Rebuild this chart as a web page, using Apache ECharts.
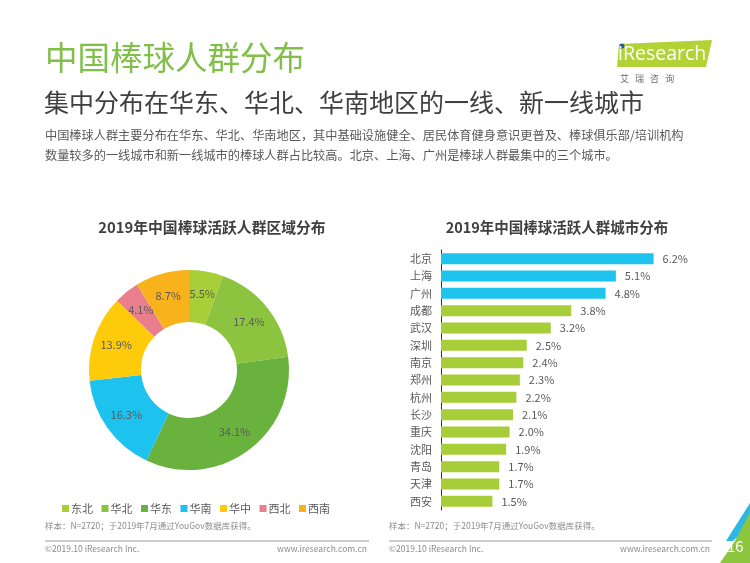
<!DOCTYPE html>
<html><head><meta charset="utf-8">
<script src="https://cdn.jsdelivr.net/npm/echarts@6/dist/echarts.min.js"></script>
<style>html,body{margin:0;padding:0;background:#fff}#c{width:750px;height:563px}</style>
</head><body><div id="c"></div>
<script>
const regions = ['东北','华北','华东','华南','华中','西北','西南'];
const regionValues = [5.5, 17.4, 34.1, 16.3, 13.9, 4.1, 8.7];
const regionColors = ['#a9cf38','#8cc43f','#6ab23e','#1ec2ee','#fecb0a','#e97f8c','#f8b21c'];
const cities = ['北京','上海','广州','成都','武汉','深圳','南京','郑州','杭州','长沙','重庆','沈阳','青岛','天津','西安'];
const cityValues = [6.2, 5.1, 4.8, 3.8, 3.2, 2.5, 2.4, 2.3, 2.2, 2.1, 2.0, 1.9, 1.7, 1.7, 1.5];
const highlightCount = 3;

const FONT = '"Noto Sans CJK SC","Noto Sans",sans-serif';
const chart = echarts.init(document.getElementById('c'));

const g = [
  {type:'text', left:45, top:41, style:{text:'中国棒球人群分布', font:'32.5px '+FONT, fill:'#82bf49'}},
  {type:'text', left:44, top:90, style:{text:'集中分布在华东、华北、华南地区的一线、新一线城市', font:'25px '+FONT, fill:'#3f3f3f'}},
  {type:'text', left:45, top:129, style:{text:'中国棒球人群主要分布在华东、华北、华南地区，其中基础设施健全、居民体育健身意识更普及、棒球俱乐部/培训机构', font:'12.2px '+FONT, fill:'#595959'}},
  {type:'text', left:45, top:149, style:{text:'数量较多的一线城市和新一线城市的棒球人群占比较高。北京、上海、广州是棒球人群最集中的三个城市。', font:'12.2px '+FONT, fill:'#595959'}},
  // logo
  {type:'polygon', shape:{points:[[619,44],[712,40],[706,67],[617,67]]}, style:{fill:'#b3d235'}},
  {type:'circle', shape:{cx:622, cy:46, r:2.5}, style:{fill:'#1f5fa8'}},
  {type:'text', left:618, top:44, style:{text:'iResearch', font:'19.5px "Open Sans",sans-serif', fill:'#ffffff'}},
  {type:'text', left:620, top:74, style:{text:'艾   瑞   咨   询', font:'9px '+FONT, fill:'#6d6d6d'}},
  // footnotes
  {type:'text', left:45, top:522, style:{text:'样本：N=2720；于2019年7月通过YouGov数据库获得。', font:'8.5px '+FONT, fill:'#8c8c8c'}},
  {type:'text', left:389, top:522, style:{text:'样本：N=2720；于2019年7月通过YouGov数据库获得。', font:'8.5px '+FONT, fill:'#8c8c8c'}},
  {type:'line', shape:{x1:45, y1:541, x2:369, y2:541}, style:{stroke:'#9a9a9a', lineWidth:1}},
  {type:'line', shape:{x1:389, y1:541, x2:712, y2:541}, style:{stroke:'#9a9a9a', lineWidth:1}},
  {type:'text', left:45, top:545, style:{text:'©2019.10 iResearch Inc.', font:'8.5px '+FONT, fill:'#8c8c8c'}},
  {type:'text', right:383, top:545, style:{text:'www.iresearch.com.cn', font:'8.5px '+FONT, fill:'#8c8c8c'}},
  {type:'text', left:389, top:545, style:{text:'©2019.10 iResearch Inc.', font:'8.5px '+FONT, fill:'#8c8c8c'}},
  {type:'text', right:40, top:545, style:{text:'www.iresearch.com.cn', font:'8.5px '+FONT, fill:'#8c8c8c'}},
  // corner decoration
  {type:'polygon', shape:{points:[[750,503],[750,525],[733,541],[726,541]]}, style:{fill:'#2cb8e6'}},
  {type:'polygon', shape:{points:[[750,512],[750,563],[720,563],[735,541]]}, style:{fill:'#8cc63f'}},
  {type:'text', left:727, top:539, style:{text:'16', font:'15px '+FONT, fill:'#ffffff'}}
];

chart.setOption({
  animation:false,
  textStyle:{fontFamily:FONT},
  title:[
    {text:'2019年中国棒球活跃人群区域分布', left:207, top:215, textAlign:'center', textStyle:{fontSize:14.8, fontWeight:'bold', color:'#404040'}},
    {text:'2019年中国棒球活跃人群城市分布', left:552, top:215, textAlign:'center', textStyle:{fontSize:14.5, fontWeight:'bold', color:'#404040'}}
  ],
  legend:{
    data:regions, left:57, top:498, itemWidth:7, itemHeight:7, itemGap:8.5, icon:'rect',
    textStyle:{fontSize:11, color:'#595959', padding:[0,0,0,-3]}
  },
  grid:{left:441, top:250, width:240, height:260},
  xAxis:{type:'value', min:0, max:7, show:false},
  yAxis:{
    type:'category', data:cities, inverse:true,
    axisLine:{show:true, lineStyle:{color:'#333', width:1}},
    axisTick:{show:false},
    axisLabel:{fontSize:11, color:'#595959', margin:9}
  },
  series:[
    {
      type:'pie', center:[189,370], radius:[48,100], startAngle:90, clockwise:true,
      data:regions.map((n,i)=>({name:n, value:regionValues[i], itemStyle:{color:regionColors[i]}})),
      label:{show:true, position:'inside', formatter:p=>p.value.toFixed(1)+'%', fontSize:11, color:'#5a5a5a'},
      labelLine:{show:false},
      itemStyle:{borderWidth:0}
    },
    {
      type:'bar', barWidth:11,
      data:cityValues.map((v,i)=>({value:v, itemStyle:{color: i<highlightCount ? '#1ec3ee' : '#a7cd38'}})),
      label:{show:true, position:'right', distance:9, formatter:p=>p.value.toFixed(1)+'%', fontSize:11, color:'#595959'}
    }
  ],
  graphic:g
});
</script></body></html>
